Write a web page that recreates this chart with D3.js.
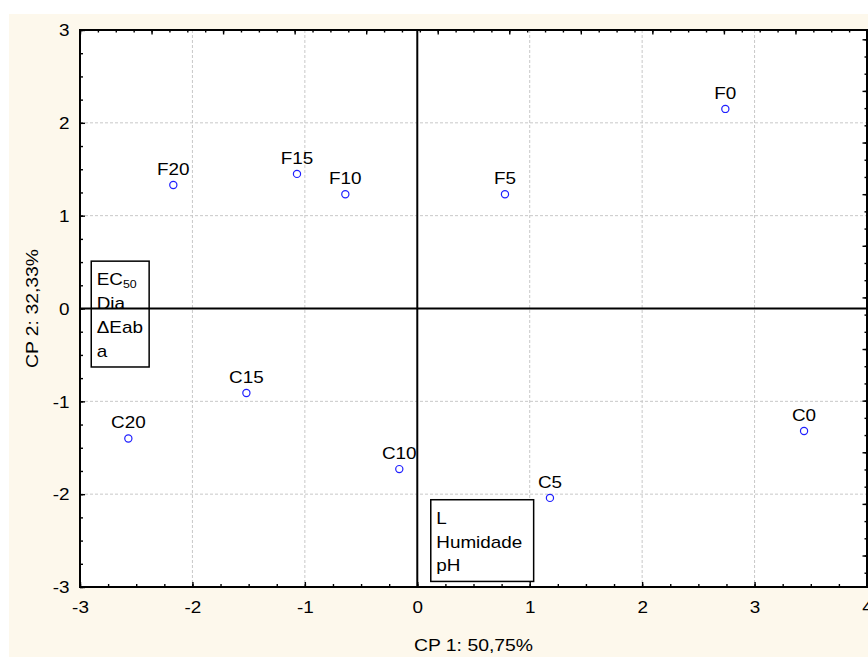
<!DOCTYPE html>
<html>
<head>
<meta charset="utf-8">
<script src="https://cdn.jsdelivr.net/npm/d3@7/dist/d3.min.js"></script>
<style>
  html, body { margin: 0; padding: 0; background: #ffffff; }
  svg { display: block; }
  text { font-family: "Liberation Sans", Arial, sans-serif; fill: #000; }
</style>
</head>
<body>
<svg id="chart" width="868" height="657"></svg>
<script>
// Sample scores on the first two principal components
const samples = ["F0", "F5", "F10", "F15", "F20", "C0", "C5", "C10", "C15", "C20"];
const cp1 = [2.74, 0.78, -0.64, -1.07, -2.17, 3.44, 1.18, -0.16, -1.52, -2.57];
const cp2 = [2.15, 1.23, 1.23, 1.45, 1.33, -1.32, -2.04, -1.73, -0.91, -1.40];

// Axis ticks and titles
const xTicks = [-3, -2, -1, 0, 1, 2, 3, 4];
const yTicks = [-3, -2, -1, 0, 1, 2, 3];
const xTitle = "CP 1: 50,75%";
const yTitle = "CP 2: 32,33%";

// Variable groups (boxes), anchored in score coordinates
const groupLines = [["EC", "Dia", "\u0394Eab", "a"], ["L", "Humidade", "pH"]];
const groupX0 = [-2.90, 0.12];
const groupX1 = [-2.385, 1.035];
const groupY0 = [0.51, -2.06];
const groupY1 = [-0.63, -2.94];

const W = 868, H = 657;
const pLeft = 80, pRight = 867, pTop = 30, pBottom = 587;
const FS = 16;      // lettering size
const SX = 1.18;    // horizontal stretch of the lettering

const svg = d3.select("#chart");

// cream page background
svg.append("rect").attr("x", 9).attr("y", 14).attr("width", W - 9).attr("height", H - 14)
  .attr("fill", "#fdf8ec");

const x = d3.scaleLinear().domain([-3, 4]).range([pLeft, pRight]);
const y = d3.scaleLinear().domain([-3, 3]).range([pBottom, pTop]);
// secondary scales for the top and right frame ticks
const xTop = d3.scaleLinear().domain([0, 11]).range([pLeft, pRight]);
const yRight = d3.scaleLinear().domain([-0.61, 10.18]).range([pBottom, pTop]);

svg.append("rect").attr("x", pLeft).attr("y", pTop)
  .attr("width", pRight - pLeft).attr("height", pBottom - pTop).attr("fill", "#ffffff");

// dashed grid
const grid = svg.append("g").attr("stroke", "#c8c8c8").attr("stroke-width", 1)
  .attr("stroke-dasharray", "3,2");
grid.selectAll("line.gx").data(xTicks.filter(v => v !== 0 && v > -3 && v < 4)).join("line")
  .attr("class", "gx")
  .attr("x1", d => x(d)).attr("x2", d => x(d)).attr("y1", pTop).attr("y2", pBottom);
grid.selectAll("line.gy").data(yTicks.filter(v => v !== 0 && v > -3 && v < 3)).join("line")
  .attr("class", "gy")
  .attr("y1", d => y(d)).attr("y2", d => y(d)).attr("x1", pLeft).attr("x2", pRight);

// variable group boxes
groupLines.forEach((lines, i) => {
  const bx = x(groupX0[i]), by = y(groupY0[i]);
  svg.append("rect").attr("x", bx).attr("y", by)
    .attr("width", x(groupX1[i]) - bx).attr("height", y(groupY1[i]) - by)
    .attr("fill", "#ffffff").attr("stroke", "#000").attr("stroke-width", 1.5);
});

// zero lines
svg.append("line").attr("x1", x(0)).attr("x2", x(0)).attr("y1", pTop).attr("y2", pBottom)
  .attr("stroke", "#000").attr("stroke-width", 2);
svg.append("line").attr("y1", y(0)).attr("y2", y(0)).attr("x1", pLeft).attr("x2", pRight)
  .attr("stroke", "#000").attr("stroke-width", 2);

// box texts
groupLines.forEach((lines, i) => {
  const bx = x(groupX0[i]), by = y(groupY0[i]);
  lines.forEach((t, j) => {
    const txt = svg.append("text")
      .attr("transform", `translate(${bx + 5.5},${by + 24 + j * 23.8}) scale(${SX},1)`)
      .attr("font-size", FS);
    txt.append("tspan").text(t);
    if (t === "EC") {
      txt.append("tspan").attr("font-size", 10.5).attr("dy", 3).text("50");
    }
  });
});

// axes: ticks point inward
function styleAxis(g) {
  g.select(".domain").remove();
  g.selectAll(".tick line").attr("stroke", "#000").attr("stroke-width", 1.4);
}
const minorX = d3.range(-3, 4.001, 0.25);
const minorY = d3.range(-3, 3.001, 0.25);

svg.append("g").attr("transform", `translate(0,${pBottom})`)
  .call(d3.axisBottom(x).tickValues(minorX).tickSize(-3).tickFormat("")).call(styleAxis);
const gxB = svg.append("g").attr("transform", `translate(0,${pBottom})`)
  .call(d3.axisBottom(x).tickValues(xTicks).tickSize(-5).tickFormat(d3.format("d"))).call(styleAxis);
gxB.selectAll(".tick text")
  .attr("y", 0).attr("dy", 0).attr("font-size", FS)
  .attr("font-family", "Liberation Sans, Arial, sans-serif").attr("fill", "#000")
  .attr("transform", `translate(0,26) scale(${SX},1)`)
  .text(d => String(d));

svg.append("g").attr("transform", `translate(${pLeft},0)`)
  .call(d3.axisLeft(y).tickValues(minorY).tickSize(-3).tickFormat("")).call(styleAxis);
const gyL = svg.append("g").attr("transform", `translate(${pLeft},0)`)
  .call(d3.axisLeft(y).tickValues(yTicks).tickSize(-5)).call(styleAxis);
gyL.selectAll(".tick text")
  .attr("x", 0).attr("dy", 0).attr("font-size", FS)
  .attr("font-family", "Liberation Sans, Arial, sans-serif").attr("fill", "#000")
  .attr("text-anchor", "end")
  .attr("transform", `translate(-10.5,5.7) scale(${SX},1)`)
  .text(d => String(d));

svg.append("g").attr("transform", `translate(0,${pTop})`)
  .call(d3.axisTop(xTop).tickValues(d3.range(0, 11.001, 0.25)).tickSize(-2.5).tickFormat("")).call(styleAxis);
svg.append("g").attr("transform", `translate(0,${pTop})`)
  .call(d3.axisTop(xTop).tickValues(d3.range(0, 12, 1)).tickSize(-4.5).tickFormat("")).call(styleAxis);

svg.append("g").attr("transform", `translate(${pRight},0)`)
  .call(d3.axisRight(yRight).tickValues(d3.range(-1 / 3, 10.1, 1 / 3)).tickSize(-2.5).tickFormat("")).call(styleAxis);
svg.append("g").attr("transform", `translate(${pRight},0)`)
  .call(d3.axisRight(yRight).tickValues(d3.range(0, 11, 1)).tickSize(-4.5).tickFormat("")).call(styleAxis);

// plot frame
svg.append("rect").attr("x", pLeft).attr("y", pTop)
  .attr("width", pRight - pLeft).attr("height", pBottom - pTop)
  .attr("fill", "none").attr("stroke", "#000").attr("stroke-width", 2);

// axis titles
svg.append("text")
  .attr("transform", `translate(${(pLeft + pRight) / 2},650.5) scale(1.12,1)`)
  .attr("text-anchor", "middle").attr("font-size", 17.3).text(xTitle);
svg.append("text")
  .attr("transform", `translate(37.5,${(pTop + pBottom) / 2}) rotate(-90) scale(1.12,1)`)
  .attr("text-anchor", "middle").attr("font-size", 17.3).text(yTitle);

// sample points and their labels
const pts = samples.map((s, i) => ({ name: s, a: cp1[i], b: cp2[i] }));
svg.selectAll("circle.pt").data(pts).join("circle")
  .attr("class", "pt")
  .attr("cx", d => x(d.a)).attr("cy", d => y(d.b)).attr("r", 3.6)
  .attr("fill", "#ffffff").attr("stroke", "#1f1fff").attr("stroke-width", 1.2);
svg.selectAll("text.pl").data(pts).join("text")
  .attr("class", "pl")
  .attr("transform", d => `translate(${x(d.a)},${y(d.b) - 10}) scale(${SX},1)`)
  .attr("text-anchor", "middle").attr("font-size", FS).text(d => d.name);
</script>
</body>
</html>
